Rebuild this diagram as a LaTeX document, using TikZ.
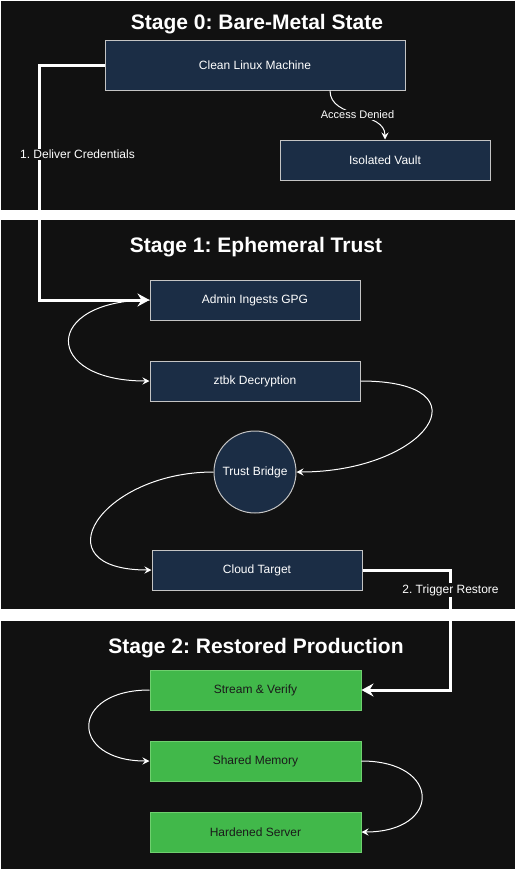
\documentclass[tikz,border=0pt]{standalone}
\usepackage{fontspec}
\setmainfont{Liberation Sans}
\usetikzlibrary{arrows.meta,positioning}
\frenchspacing
\definecolor{panelbg}{HTML}{111111}
\definecolor{navyfill}{HTML}{1B2D45}
\definecolor{navyline}{HTML}{C4C4C4}
\definecolor{greenfill}{HTML}{41B84A}
\definecolor{greenline}{HTML}{6FCF6F}
\definecolor{darktext}{HTML}{1A1A1A}
\tikzset{
  box/.style={draw=navyline,fill=navyfill,text=white,line width=1pt,minimum width=210pt,minimum height=40pt,inner sep=0pt,align=center,font=\fontsize{12}{14}\selectfont},
  greenbox/.style={box,draw=greenline,fill=greenfill,text=darktext},
  bridgebox/.style={box,circle,minimum width=82pt,minimum height=82pt},
  stagetitle/.style={text=white,font=\fontsize{21}{25}\selectfont\bfseries},
  edgelabel/.style={fill=panelbg,text=white,inner sep=1pt,font=\fontsize{11}{13}\selectfont},
  steplabel/.style={edgelabel,font=\fontsize{12}{14}\selectfont},
  flow/.style={-{Stealth[length=7pt,width=7pt,inset=2.5pt]},line width=1pt,draw=white},
  mainflow/.style={-{Stealth[length=12pt,width=13pt,inset=4pt]},line width=3pt,draw=white}
}
\begin{document}
\begin{tikzpicture}[x=1pt,y=1pt,node distance=40pt]
  \useasboundingbox[fill=white] (0,0) rectangle (517,-871);
  % stage panels
  \fill[panelbg] (1,-1) rectangle (515,-210);
  \fill[panelbg] (1,-220) rectangle (515,-609);
  \fill[panelbg] (1,-621) rectangle (515,-869);
  \node[stagetitle] (title0) at (257,-24) {Stage 0: Bare-Metal State};
  \node[stagetitle] (title1) at (256,-247) {Stage 1: Ephemeral Trust};
  \node[stagetitle] (title2) at (256,-648) {Stage 2: Restored Production};
  % stage 0
  \node[box,minimum width=300pt,minimum height=50pt] (clean) at (255,-65) {Clean Linux Machine};
  \node[box] (vault) at (385,-160) {Isolated Vault};
  % stage 1
  \node[box] (admin) at (255,-300) {Admin Ingests GPG};
  \node[box,below=of admin] (ztbk) {ztbk Decryption};
  \node[bridgebox,below=29pt of ztbk] (bridge) {Trust Bridge};
  \node[box] (cloud) at (257,-570) {Cloud Target};
  % stage 2
  \node[greenbox,minimum width=211pt] (stream) at (255.5,-690) {Stream \& Verify};
  \node[greenbox,minimum width=211pt,below=30pt of stream] (shared) {Shared Memory};
  \node[greenbox,minimum width=211pt,below=30pt of shared] (hardened) {Hardened Server};
  % connectors
  \draw[flow] ([xshift=75pt]clean.south) to[out=-90,in=90] node[edgelabel] {Access Denied} (vault.north);
  \draw[mainflow] (clean.west) -- ++(-65,0) |- node[steplabel,pos=0.19,xshift=38pt] {1. Deliver Credentials} (admin.west);
  \draw[flow] (admin.west) to[out=180,in=180,looseness=3.4] (ztbk.west);
  \draw[flow] (ztbk.east) to[out=0,in=0,looseness=3.0] (bridge.east);
  \draw[flow] (bridge.west) to[out=180,in=180,looseness=2.5] (cloud.west);
  \draw[mainflow] (cloud.east) -- ++(88,0) |- node[steplabel,pos=0.083] {2. Trigger Restore} (stream.east);
  \draw[flow] (stream.west) to[out=180,in=180,looseness=2.9] (shared.west);
  \draw[flow] (shared.east) to[out=0,in=0,looseness=2.9] (hardened.east);
\end{tikzpicture}
\end{document}
